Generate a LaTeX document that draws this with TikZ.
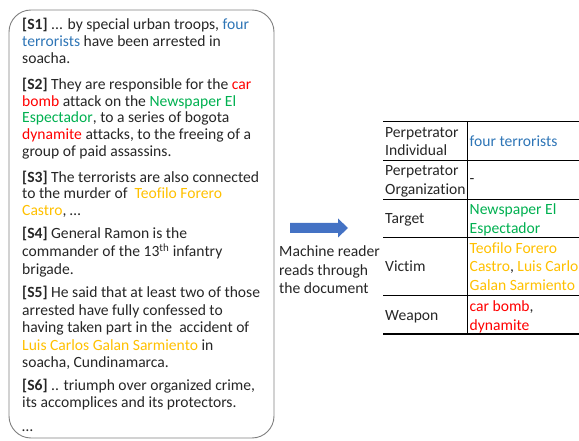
\documentclass[tikz,border=0pt]{standalone}
\usepackage{fontspec}
\setmainfont[Ligatures={NoCommon}]{Carlito}
\definecolor{tblue}{HTML}{2E75B6}
\definecolor{tred}{HTML}{FF0000}
\definecolor{tgreen}{HTML}{00B050}
\definecolor{torange}{HTML}{FFC000}
\definecolor{arrowblue}{HTML}{4472C4}
\definecolor{boxgray}{HTML}{7F7F7F}
\begin{document}
\begin{tikzpicture}[x=1pt,y=-1pt,
  ln/.style={anchor=base west, inner sep=0pt, font=\fontsize{15.6}{17}\selectfont, text=black!85},
  tl/.style={anchor=base west, inner sep=0pt, font=\fontsize{15.6}{17}\selectfont, text=black!85},
  rule/.style={line width=1.1pt, black}]
\useasboundingbox (0,0) rectangle (579,441);
% document box
\draw[boxgray, line width=0.9pt, rounded corners=22pt] (9,10) rectangle (274,438);
% S1
\node[ln] (s1a) at (22,30) {\textbf{[S1]} ... by special urban troops, \textcolor{tblue}{four}};
\node[ln] (s1b) at (22,46.8) {\textcolor{tblue}{terrorists} have been arrested in};
\node[ln] (s1c) at (22,63.6) {soacha.};
% S2
\node[ln] (s2a) at (22,90) {\textbf{[S2]} They are responsible for the \textcolor{tred}{car}};
\node[ln] (s2b) at (22,106.5) {\textcolor{tred}{bomb} attack on the \textcolor{tgreen}{Newspaper El}};
\node[ln] (s2c) at (22,123) {\textcolor{tgreen}{Espectador}, to a series of bogota};
\node[ln] (s2d) at (22,140) {\textcolor{tred}{dynamite} attacks, to the freeing of a};
\node[ln] (s2e) at (22,157) {group of paid assassins.};
% S3
\node[ln] (s3a) at (22,182.5) {\textbf{[S3]} The terrorists are also connected};
\node[ln] (s3b) at (22,199) {to the murder of\ \ \textcolor{torange}{Teofilo Forero}};
\node[ln] (s3c) at (22,215.7) {\textcolor{torange}{Castro}, \dots};
% S4
\node[ln] (s4a) at (22,239) {\textbf{[S4]} General Ramon is the};
\node[ln] (s4b) at (22,256.5) {commander of the 13\textsuperscript{th} infantry};
\node[ln] (s4c) at (22,274) {brigade.};
% S5
\node[ln] (s5a) at (22,297.5) {\textbf{[S5]} He said that at least two of those};
\node[ln] (s5b) at (22,315) {arrested have fully confessed to};
\node[ln] (s5c) at (22,332.3) {having taken part in the\ \ accident of};
\node[ln] (s5d) at (22,350) {\textcolor{torange}{Luis Carlos Galan Sarmiento} in};
\node[ln] (s5e) at (22,367.3) {soacha, Cundinamarca.};
% S6
\node[ln] (s6a) at (22,390.7) {\textbf{[S6]} .. triumph over organized crime,};
\node[ln] (s6b) at (22,407.3) {its accomplices and its protectors.};
\node[ln] (s7) at (22,431) {\dots};
% arrow
\fill[arrowblue] (290,223) -- (338,223) -- (338,218.5) -- (348,228) -- (338,237.5) -- (338,233) -- (290,233) -- cycle;
\coordinate (arrowtip) at (348,228);
% machine reader text
\node[ln] (m1) at (279,257) {Machine reader};
\node[ln] (m2) at (279,275.5) {reads through};
\node[ln] (m3) at (279,294) {the document};
% table rules
\coordinate (t0l) at (383,121.7); \coordinate (t0r) at (579,121.7);
\coordinate (t1l) at (383,160.7); \coordinate (t1r) at (579,160.7);
\coordinate (t2l) at (383,199.3); \coordinate (t2r) at (579,199.3);
\coordinate (t3l) at (383,237.7); \coordinate (t3r) at (579,237.7);
\coordinate (t4l) at (383,295.7); \coordinate (t4r) at (579,295.7);
\coordinate (t5l) at (383,334);   \coordinate (t5r) at (579,334);
\coordinate (vt) at (467.7,121.7); \coordinate (vb) at (467.7,334);
\foreach \i in {0,...,5} {\draw[rule] (t\i l) -- (t\i r);}
\draw[rule] (vt) -- (vb);
% table left column
\node[tl] (r1a) at (385,137.5) {Perpetrator};
\node[tl] (r1b) at (385,156) {Individual};
\node[tl] (r2a) at (385,175.5) {Perpetrator};
\node[tl] (r2b) at (385,195) {Organization};
\node[tl] (r3a) at (385,223.5) {Target};
\node[tl] (r4a) at (385,271.5) {Victim};
\node[tl] (r5a) at (385,320.5) {Weapon};
% table right column
\node[tl] (c1) at (469.5,146.5) {\textcolor{tblue}{four terrorists}};
\node[tl] (c2) at (469.5,184) {-};
\node[tl] (c3a) at (469.5,214.5) {\textcolor{tgreen}{Newspaper El}};
\node[tl] (c3b) at (469.5,233.5) {\textcolor{tgreen}{Espectador}};
\node[tl] (c4a) at (469.5,253.5) {\textcolor{torange}{Teofilo Forero}};
\node[tl] (c4b) at (469.5,271.5) {\textcolor{torange}{Castro}, \textcolor{torange}{Luis Carlos}};
\node[tl] (c4c) at (469.5,290.5) {\textcolor{torange}{Galan Sarmiento}};
\node[tl] (c5a) at (469.5,311) {\textcolor{tred}{car bomb},};
\node[tl] (c5b) at (469.5,330) {\textcolor{tred}{dynamite}};
\end{tikzpicture}
\end{document}
